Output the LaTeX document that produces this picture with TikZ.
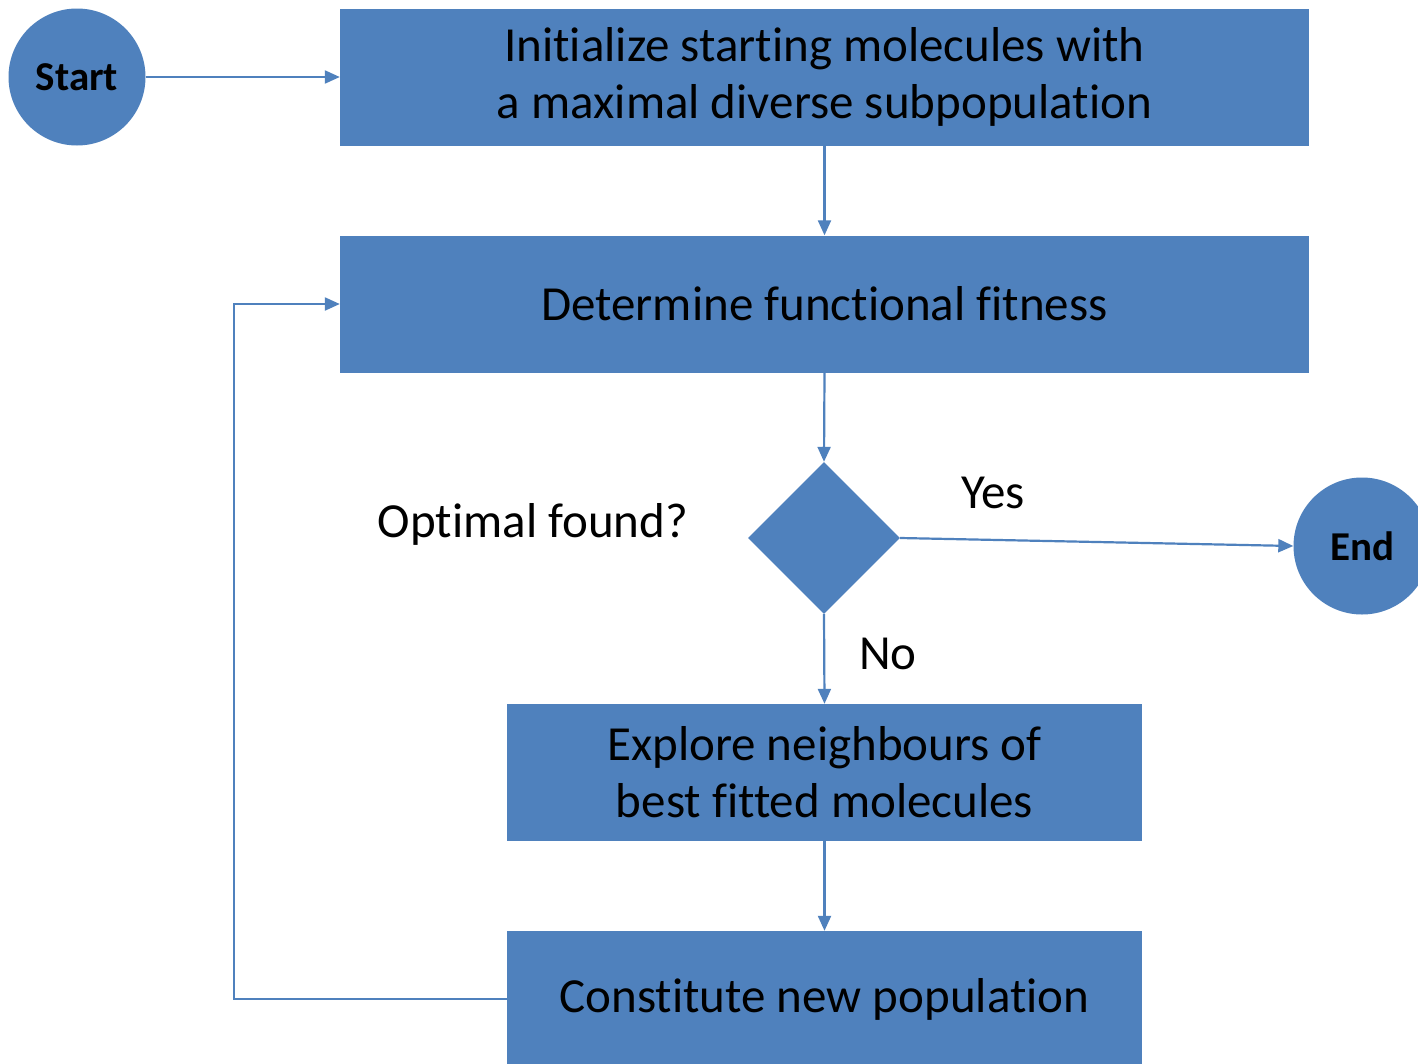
\documentclass[tikz,border=0pt]{standalone}
\usepackage{fontspec}
\setmainfont[Ligatures=NoCommon]{Carlito}
\usetikzlibrary{arrows.meta,shapes.geometric}
\definecolor{flowblue}{HTML}{4F81BD}
\begin{document}
\begin{tikzpicture}[x=1pt,y=-1pt,
  blk/.style={fill=flowblue,draw=none,inner sep=0pt,align=center,font=\fontsize{49}{57}\selectfont},
  term/.style={circle,fill=flowblue,draw=none,inner sep=0pt,minimum size=137pt,font=\bfseries\fontsize{41}{44}\selectfont},
  decide/.style={diamond,fill=flowblue,draw=none,inner sep=0pt,minimum width=152pt,minimum height=152pt},
  lbl/.style={font=\fontsize{49}{55}\selectfont,inner sep=0pt},
  flow/.style={draw=flowblue,line width=2.2pt,-{Triangle[length=15pt,width=13pt]}}
]
\clip (0,0) rectangle (1418,1063);
\fill[white] (0,0) rectangle (1418,1063);

% terminals
\node[term] (start) at (77,77) {Start};
\node[term] (finish) at (1362,546) {End};

% process boxes
\node[blk,minimum width=969pt,minimum height=137pt] (init) at (824.5,77)
  {Initialize starting molecules with\\a maximal diverse subpopulation};
\node[blk,minimum width=969pt,minimum height=137pt] (fit) at (824.5,304)
  {Determine functional fitness};
\node[decide] (dec) at (824,538) {};
\node[blk,minimum width=635pt,minimum height=137pt] (explore) at (824.5,772.5)
  {Explore neighbours of\\best fitted molecules};
\node[blk,minimum width=635pt,minimum height=137pt] (newpop) at (824.5,999.5)
  {Constitute new population};

% labels
\node[lbl] (qlbl) at (533,524) {Optimal found?};
\node[lbl] (yes) at (993,493) {Yes};
\node[lbl] (no) at (888,654) {No};

% connectors
\draw[flow] (start.east) -- (init.west);
\draw[flow] (init.south) -- (fit.north);
\draw[flow] (fit.south) -- (dec.north);
\draw[flow] (dec.east) -- (finish.west);
\draw[flow] (dec.south) -- (explore.north);
\draw[flow] (explore.south) -- (newpop.north);
\coordinate (lb) at (234,999);
\coordinate (lt) at (234,304);
\draw[flow] (newpop.west |- lb) -- (lb) -- (lt) -- (fit.west);
\end{tikzpicture}
\end{document}
